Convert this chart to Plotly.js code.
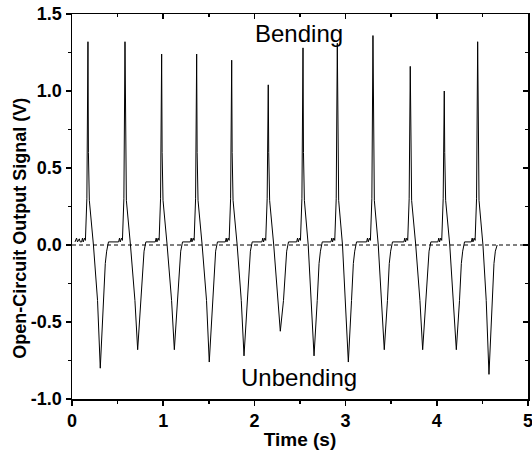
<!DOCTYPE html>
<html>
<head>
<meta charset="utf-8">
<script src="https://cdn.plot.ly/plotly-3.0.1.min.js"></script>
<style>html,body{margin:0;padding:0;background:#fff}#chart{width:532px;height:455px}</style>
</head>
<body>
<div id="chart"></div>
<script>
// Time (s) and open-circuit signal (V)
var time = [
  0.033,0.050,0.060,0.080,0.090,
  0.105,0.115,0.123,0.137,0.147,0.163,0.175,0.180,0.190,0.235,0.280,0.310,0.345,0.365,0.380,0.400,
  0.511,0.521,0.529,0.543,0.553,0.569,0.581,0.586,0.596,0.641,0.690,0.720,0.755,0.775,0.790,0.810,
  0.913,0.923,0.931,0.945,0.955,0.971,0.983,0.988,0.998,1.043,1.092,1.122,1.157,1.177,1.192,1.212,
  1.297,1.307,1.315,1.329,1.339,1.355,1.367,1.372,1.382,1.427,1.475,1.505,1.540,1.560,1.575,1.595,
  1.681,1.691,1.699,1.713,1.723,1.739,1.751,1.756,1.766,1.811,1.856,1.886,1.921,1.941,1.956,1.976,
  2.082,2.092,2.100,2.114,2.124,2.140,2.152,2.157,2.167,2.212,2.254,2.284,2.319,2.339,2.354,2.374,
  2.463,2.473,2.481,2.495,2.505,2.521,2.533,2.538,2.548,2.590,2.624,2.654,2.689,2.709,2.724,2.744,
  2.839,2.849,2.857,2.871,2.881,2.897,2.909,2.914,2.924,2.966,3.000,3.030,3.065,3.085,3.100,3.120,
  3.230,3.240,3.248,3.262,3.272,3.288,3.300,3.305,3.315,3.358,3.394,3.424,3.459,3.479,3.494,3.514,
  3.639,3.649,3.657,3.671,3.681,3.697,3.709,3.714,3.724,3.769,3.815,3.845,3.880,3.900,3.915,3.935,
  4.012,4.022,4.030,4.044,4.054,4.070,4.082,4.087,4.097,4.142,4.184,4.214,4.249,4.269,4.284,4.304,
  4.378,4.388,4.396,4.410,4.420,4.436,4.448,4.453,4.463,4.506,4.542,4.572,4.607,4.627,4.642,4.662
];
var signal = [
  0.02,0.045,0.02,0.04,0.02,
  0.02,0.045,0.02,0.045,0.03,0.30,1.32,0.60,0.29,0.00,-0.36,-0.80,-0.36,-0.12,-0.04,0.02,
  0.02,0.045,0.02,0.045,0.03,0.30,1.32,0.60,0.29,0.00,-0.36,-0.68,-0.36,-0.12,-0.04,0.02,
  0.02,0.045,0.02,0.045,0.03,0.30,1.24,0.60,0.29,0.00,-0.36,-0.68,-0.36,-0.12,-0.04,0.02,
  0.02,0.045,0.02,0.045,0.03,0.30,1.24,0.60,0.29,0.00,-0.36,-0.76,-0.36,-0.12,-0.04,0.02,
  0.02,0.045,0.02,0.045,0.03,0.30,1.20,0.60,0.29,0.00,-0.36,-0.72,-0.36,-0.12,-0.04,0.02,
  0.02,0.045,0.02,0.045,0.03,0.30,1.04,0.60,0.29,0.00,-0.36,-0.56,-0.36,-0.12,-0.04,0.02,
  0.02,0.045,0.02,0.045,0.03,0.30,1.28,0.60,0.29,0.00,-0.36,-0.72,-0.36,-0.12,-0.04,0.02,
  0.02,0.045,0.02,0.045,0.03,0.30,1.31,0.60,0.29,0.00,-0.36,-0.76,-0.36,-0.12,-0.04,0.02,
  0.02,0.045,0.02,0.045,0.03,0.30,1.36,0.60,0.29,0.00,-0.36,-0.68,-0.36,-0.12,-0.04,0.02,
  0.02,0.045,0.02,0.045,0.03,0.30,1.16,0.60,0.29,0.00,-0.36,-0.68,-0.36,-0.12,-0.04,0.02,
  0.02,0.045,0.02,0.045,0.03,0.30,1.00,0.60,0.29,0.00,-0.36,-0.68,-0.36,-0.12,-0.04,0.02,
  0.02,0.045,0.02,0.045,0.03,0.30,1.32,0.60,0.29,0.00,-0.36,-0.84,-0.36,-0.12,-0.04,0.00
];
var baselineX = [0, 5];
var baselineY = [0, 0];
var xTickVals = [0, 1, 2, 3, 4, 5];
var xTickText = ['0', '1', '2', '3', '4', '5'];
var yTickVals = [-1.0, -0.5, 0.0, 0.5, 1.0, 1.5];
var yTickText = ['-1.0', '-0.5', '0.0', '0.5', '1.0', '1.5'];
var labelTexts = ['Bending', 'Unbending'];
var labelX = [2.49, 2.49];
var labelY = [1.375, -0.86];
var yTitleText = 'Open-Circuit Output Signal (V)';

var FONT = 'Liberation Sans, Arial, sans-serif';

var traces = [
  {x: time, y: signal, type: 'scatter', mode: 'lines',
   line: {color: '#000', width: 1}, hoverinfo: 'skip', xaxis: 'x', yaxis: 'y'},
  {x: baselineX, y: baselineY, type: 'scatter', mode: 'lines',
   line: {color: '#000', width: 1, dash: '4px,3px'}, hoverinfo: 'skip', xaxis: 'x2', yaxis: 'y2'}
];

var axBase = {
  showgrid: false, zeroline: false, showline: true, linecolor: '#000', linewidth: 1.5,
  tickcolor: '#000', tickwidth: 1.5, fixedrange: true
};

var annotations = labelTexts.map(function (t, i) {
  return {text: t, x: labelX[i], y: labelY[i], xref: 'x', yref: 'y',
    showarrow: false, xanchor: 'center', yanchor: 'middle',
    font: {family: FONT, size: 24, color: '#000'}};
});
annotations.push({text: yTitleText, textangle: -90, xref: 'paper', yref: 'paper',
  x: -0.114, y: 0.442, xanchor: 'center', yanchor: 'middle', showarrow: false,
  font: {family: FONT, size: 18, weight: 'bold', color: '#000'}});

var layout = {
  width: 532, height: 455,
  margin: {l: 72, r: 4, t: 14, b: 56},
  paper_bgcolor: '#fff', plot_bgcolor: '#fff',
  showlegend: false,
  font: {family: FONT, color: '#000'},
  xaxis: Object.assign({}, axBase, {
    range: [0, 5], autorange: false, side: 'bottom',
    tickmode: 'array', tickvals: xTickVals, ticktext: xTickText,
    ticks: 'outside', ticklen: 5, ticklabeloverflow: 'allow',
    minor: {dtick: 0.5, tick0: 0, ticks: 'outside', ticklen: 3, tickwidth: 1.5, tickcolor: '#000'},
    tickfont: {family: FONT, size: 18, weight: 'bold', color: '#000'},
    title: {text: 'Time (s)', font: {family: FONT, size: 19, weight: 'bold', color: '#000'}, standoff: 2}
  }),
  yaxis: Object.assign({}, axBase, {
    range: [-1, 1.5], autorange: false, side: 'left',
    tickmode: 'array', tickvals: yTickVals, ticktext: yTickText,
    ticks: 'outside', ticklen: 5, ticklabeloverflow: 'allow',
    minor: {dtick: 0.25, tick0: 0, ticks: 'outside', ticklen: 3, tickwidth: 1.5, tickcolor: '#000'},
    tickfont: {family: FONT, size: 18, weight: 'bold', color: '#000'}
  }),
  xaxis2: Object.assign({}, axBase, {
    overlaying: 'x', side: 'top', range: [0, 5], autorange: false,
    tickmode: 'array', tickvals: xTickVals, showticklabels: false,
    ticks: 'inside', ticklen: 5,
    minor: {dtick: 0.5, tick0: 0, ticks: 'inside', ticklen: 3, tickwidth: 1.5, tickcolor: '#000'}
  }),
  yaxis2: Object.assign({}, axBase, {
    overlaying: 'y', side: 'right', range: [-1, 1.5], autorange: false,
    tickmode: 'array', tickvals: yTickVals, showticklabels: false,
    ticks: 'inside', ticklen: 5,
    minor: {dtick: 0.25, tick0: 0, ticks: 'inside', ticklen: 3, tickwidth: 1.5, tickcolor: '#000'}
  }),
  annotations: annotations
};

Plotly.newPlot('chart', traces, layout, {staticPlot: true, displayModeBar: false});
</script>
</body>
</html>
